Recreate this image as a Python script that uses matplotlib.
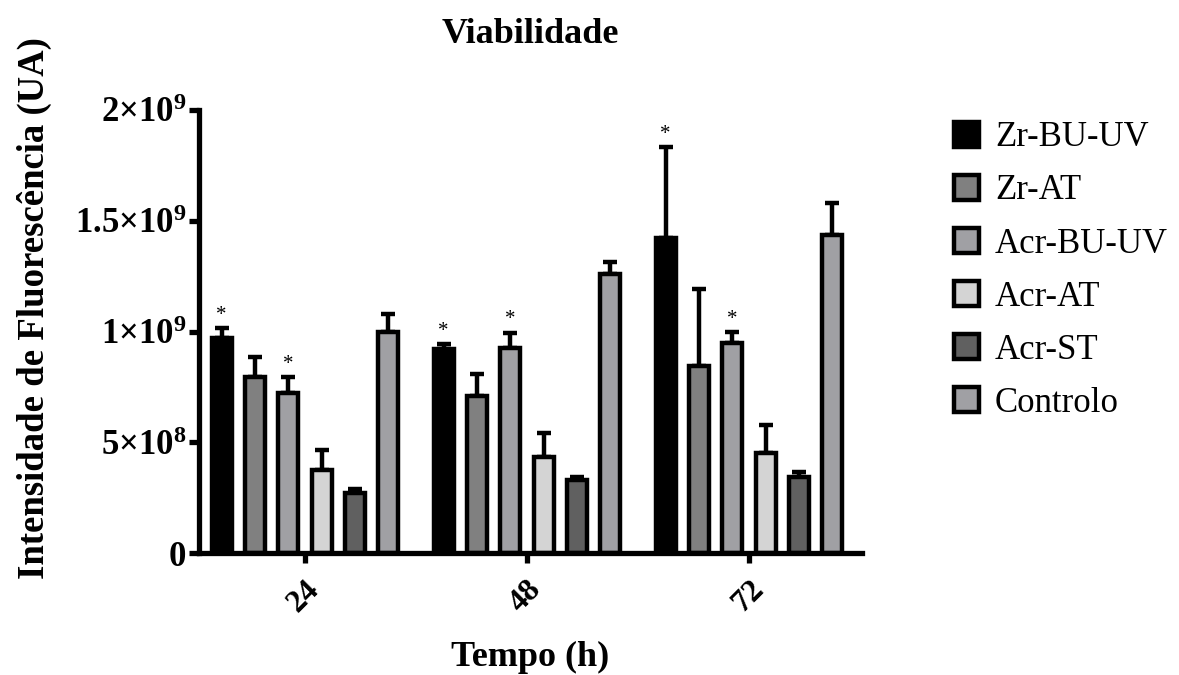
import numpy as np
import matplotlib.pyplot as plt

times = ['24', '48', '72']
groups = ['Zr-BU-UV', 'Zr-AT', 'Acr-BU-UV', 'Acr-AT', 'Acr-ST', 'Controlo']
colors = ['#000000', '#808080', '#a0a0a4', '#d4d4d4', '#606060', '#a0a0a4']

# mean values (x1e9) per group, for 24 / 48 / 72 h
zr_bu_uv = [0.97, 0.921, 1.422]
zr_at = [0.795, 0.709, 0.844]
acr_bu_uv = [0.722, 0.925, 0.948]
acr_at = [0.375, 0.433, 0.451]
acr_st = [0.271, 0.330, 0.343]
controlo = [0.998, 1.260, 1.436]

# standard deviations (x1e9)
zr_bu_uv_err = [0.045, 0.023, 0.41]
zr_at_err = [0.09, 0.10, 0.35]
acr_bu_uv_err = [0.073, 0.07, 0.05]
acr_at_err = [0.09, 0.11, 0.127]
acr_st_err = [0.02, 0.014, 0.023]
controlo_err = [0.08, 0.054, 0.145]

# which bars get a '*'
signif = ['Zr-BU-UV', 'Acr-BU-UV']

ytick_vals = [0, 5e8, 1e9, 1.5e9, 2e9]
ytick_labels = [r'$\mathbf{0}$', r'$\mathbf{5{\times}10^{8}}$', r'$\mathbf{1{\times}10^{9}}$',
                r'$\mathbf{1.5{\times}10^{9}}$', r'$\mathbf{2{\times}10^{9}}$']

means = [zr_bu_uv, zr_at, acr_bu_uv, acr_at, acr_st, controlo]
errs = [zr_bu_uv_err, zr_at_err, acr_bu_uv_err, acr_at_err, acr_st_err, controlo_err]

plt.rcParams['font.family'] = ['Liberation Serif', 'DejaVu Serif']
plt.rcParams['mathtext.fontset'] = 'custom'
plt.rcParams['mathtext.rm'] = 'Liberation Serif'
plt.rcParams['mathtext.bf'] = 'Liberation Serif:bold'

fig = plt.figure(figsize=(11.79, 6.75), dpi=100)
ax = fig.add_axes([199 / 1179, 1 - 553 / 675, (862 - 199) / 1179, (553 - 110) / 675])

x = np.arange(len(times))
step = 0.15
width = 0.09
lw = 3.2
for i, (name, m, e, c) in enumerate(zip(groups, means, errs, colors)):
    pos = x + (i - 2.5) * step
    vals = np.array(m) * 1e9
    ev = np.array(e) * 1e9
    ax.bar(pos, vals, width, color=c, edgecolor='black', linewidth=lw,
           label=name, zorder=2)
    ax.errorbar(pos, vals, yerr=[np.zeros_like(ev), ev], fmt='none',
                ecolor='black', elinewidth=lw, capsize=5, capthick=lw, zorder=1)
    if name in signif:
        for p, v, er in zip(pos, vals, ev):
            ax.text(p, v + er + 0.015e9, '*', ha='center', va='bottom',
                    fontsize=15)

ax.set_xlim(-0.477, 2.509)
ax.set_ylim(0, 2e9)
ax.set_yticks(ytick_vals)
ax.set_yticklabels(ytick_labels, fontsize=25)
ax.set_xticks(x)
ax.set_xticklabels(times, rotation=45, fontsize=23, fontweight='bold',
                   ha='right', va='top', rotation_mode='anchor')

for s in ['top', 'right']:
    ax.spines[s].set_visible(False)
for s in ['left', 'bottom']:
    ax.spines[s].set_linewidth(3.8)
ax.tick_params(axis='both', width=3.8, length=7, direction='out', pad=2)
ax.tick_params(axis='x', pad=9)

ax.set_title('Viabilidade', fontsize=26, fontweight='bold', pad=48)
ax.set_xlabel('Tempo (h)', fontsize=26, fontweight='bold', labelpad=16)
ax.set_ylabel('Intensidade de Fluorescência (UA)', fontsize=26.5, fontweight='bold')
ax.yaxis.set_label_coords(-0.222, 0.553)

leg = ax.legend(loc='upper left', bbox_to_anchor=(1.092, 1.045), frameon=False,
                fontsize=25, handlelength=0.72, handleheight=0.72,
                labelspacing=0.58, handletextpad=0.45)

fig.savefig('out.png', dpi=100)
